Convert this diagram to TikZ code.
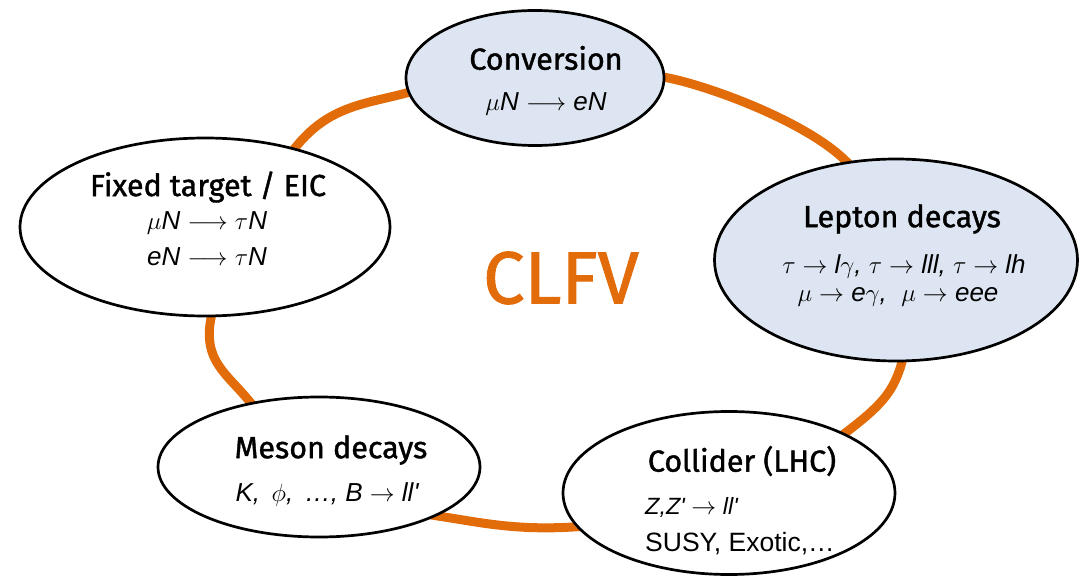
\documentclass[tikz,border=0pt]{standalone}
\usepackage{fontspec}
\usetikzlibrary{shapes.geometric}
\newfontfamily\titlefont[FakeBold=1.3]{Fira Sans}
\newfontfamily\bodyfont{Liberation Sans}
\definecolor{Ring}{HTML}{E36C0A}
\definecolor{SoftBlue}{HTML}{DCE5F1}
\tikzset{
 blob/.style={draw=black, line width=2.7pt, ellipse, fill=white, inner sep=0pt},
 blueblob/.style={blob, fill=SoftBlue},
 head/.style={font=\titlefont\fontsize{30.5}{34}\selectfont, inner sep=0pt},
 proc/.style={font=\bodyfont\itshape\fontsize{26}{30}\selectfont, inner sep=0pt},
 ring/.style={draw=Ring, line width=9pt}
}

\begin{document}
\begin{tikzpicture}[x=1pt,y=-1pt]
\useasboundingbox (0,0) rectangle (1080,583);
% orange loop behind the ellipses
\draw[ring] plot[smooth cycle, tension=0.6] coordinates {(211,318) (300,142) (410,92) (545,73) (685,82) (837,153) (900,260) (902,362) (853,427) (720,505) (573,527) (463,520) (350,490) (250,402)};
\node[blueblob, minimum width=258pt, minimum height=135pt] (conv) at (535,78) {};
\node[blueblob, minimum width=363pt, minimum height=202pt] (lept) at (896,260) {};
\node[blob, minimum width=370pt, minimum height=178pt] (fixd) at (205,227) {};
\node[blob, minimum width=322pt, minimum height=140pt] (meso) at (319,467) {};
\node[blob, minimum width=332pt, minimum height=163pt] (coll) at (729,493) {};
% labels
\node[head] (convt) at (546,58) {Conversion};
\node[proc] (convp) at (546,104) {$\mu$N $\longrightarrow$ eN};
\node[head] (leptt) at (902,219) {Lepton decays};
\node[proc] (leptp) at (904,266) {$\tau\rightarrow$ l$\gamma$, $\tau\rightarrow$ lll, $\tau\rightarrow$ lh};
\node[proc] (leptq) at (898,297) {$\mu\rightarrow$ e$\gamma$,\ \ $\mu\rightarrow$ eee};
\node[head] (fixdt) at (208,187) {Fixed target / EIC};
\node[proc] (fixdp) at (207,223) {$\mu$N $\longrightarrow$ $\tau$N};
\node[proc] (fixdq) at (207,257) {eN $\longrightarrow$ $\tau$N};
\node[head] (mesot) at (331,450) {Meson decays};
\node[proc] (mesop) at (327,494) {K,\,\ $\phi$,\,\ \dots,\ B $\rightarrow$ ll'};
\node[head] (collt) at (742,461) {Collider (LHC)};
\node[proc, font=\bodyfont\itshape\fontsize{23.5}{27}\selectfont, anchor=west] (collp) at (645,507) {Z,Z' $\rightarrow$ ll'};
\node[proc, font=\bodyfont\fontsize{26.5}{30}\selectfont, anchor=west] (collq) at (645,544) {SUSY, Exotic,\dots};
\node[font=\titlefont\fontsize{74}{78}\selectfont, text=Ring, inner sep=0pt] (clfv) at (561,278) {CLFV};
\end{tikzpicture}
\end{document}
